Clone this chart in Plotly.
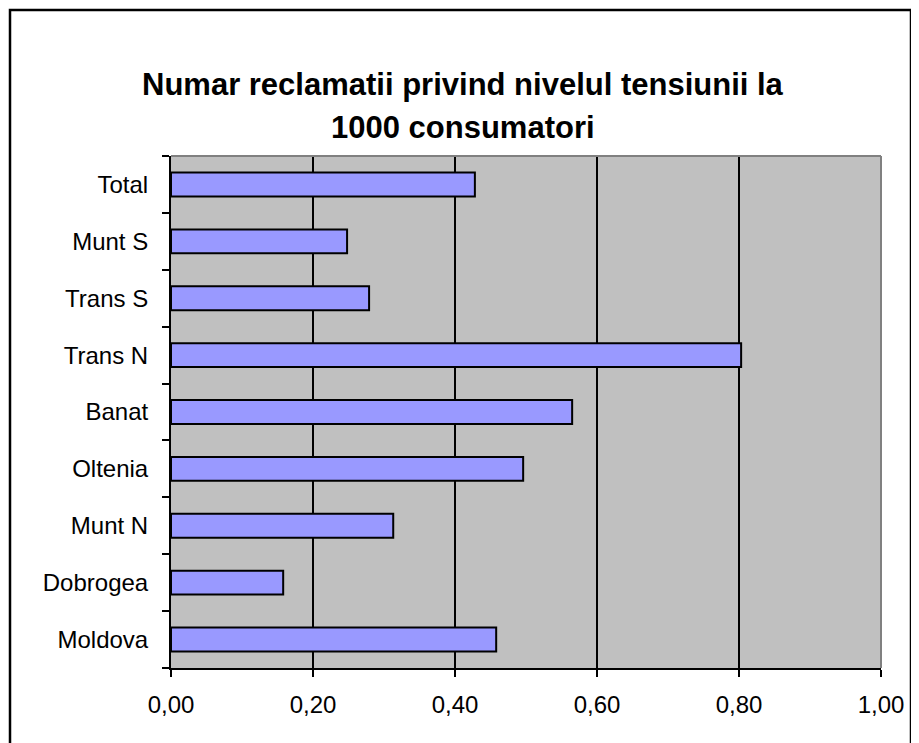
import plotly.graph_objects as go

regions = ["Moldova", "Dobrogea", "Munt N", "Oltenia", "Banat",
           "Trans N", "Trans S", "Munt S", "Total"]
complaints = [0.458, 0.158, 0.313, 0.496, 0.565, 0.803, 0.279, 0.248, 0.428]

# page body has an 8px margin, so the figure is drawn 8px smaller
OFF = 8
W, H = 919 - OFF, 743 - OFF
X0, X1, Y0, Y1 = 171, 881, 156, 668  # plot area in window pixels
L, R, T, B = X0 - OFF, 919 - X1, Y0 - OFF, 743 - Y1
pw, ph = X1 - X0, Y1 - Y0


def px_x(p):
    return (p - X0) / pw


def px_y(p):
    return (Y1 - p) / ph


font = "Liberation Sans, Arial, sans-serif"

fig = go.Figure()
fig.add_trace(go.Bar(
    x=complaints,
    y=regions,
    orientation="h",
    marker=dict(color="#9999FF", line=dict(color="black", width=2)),
    hoverinfo="x+y",
))

fig.update_layout(
    width=W, height=H,
    margin=dict(l=L, r=R, t=T, b=B, pad=0),
    paper_bgcolor="white",
    plot_bgcolor="#C0C0C0",
    separators=",.",
    bargap=0.58,
    showlegend=False,
    font=dict(family=font, size=24, color="black"),
    xaxis=dict(
        range=[0, 1], dtick=0.2, tickformat=".2f",
        showgrid=True, gridcolor="black", gridwidth=2,
        zeroline=False,
        showline=True, linecolor="black", linewidth=2,
        ticks="outside", ticklen=7, tickwidth=2, tickcolor="black",
        ticklabelstandoff=7,
        tickfont=dict(size=24),
    ),
    yaxis=dict(
        type="category",
        showgrid=False, zeroline=False,
        showline=True, linecolor="black", linewidth=2,
        ticks="outside", tickson="boundaries", ticklen=7, tickwidth=2,
        tickcolor="black",
        ticklabelstandoff=16,
        tickfont=dict(size=24),
    ),
    shapes=[
        # grey top and right border of the plot area
        dict(type="line", xref="paper", yref="paper", x0=0, x1=1, y0=1, y1=1,
             line=dict(color="#808080", width=2), layer="above"),
        dict(type="line", xref="paper", yref="paper", x0=1, x1=1, y0=0, y1=1,
             line=dict(color="#808080", width=2), layer="above"),
        # outer chart frame
        dict(type="rect", xref="paper", yref="paper",
             x0=px_x(10), x1=px_x(911), y0=px_y(760), y1=px_y(10),
             line=dict(color="black", width=2.5), layer="below"),
    ],
    annotations=[
        dict(text="<b>Numar reclamatii privind nivelul tensiunii la</b>",
             xref="paper", yref="paper", x=px_x(463), y=px_y(84),
             xanchor="center", yanchor="middle", showarrow=False,
             font=dict(size=31, family=font)),
        dict(text="<b>1000 consumatori</b>",
             xref="paper", yref="paper", x=px_x(463), y=px_y(127),
             xanchor="center", yanchor="middle", showarrow=False,
             font=dict(size=31, family=font)),
    ],
)

fig.write_html("out.html")
